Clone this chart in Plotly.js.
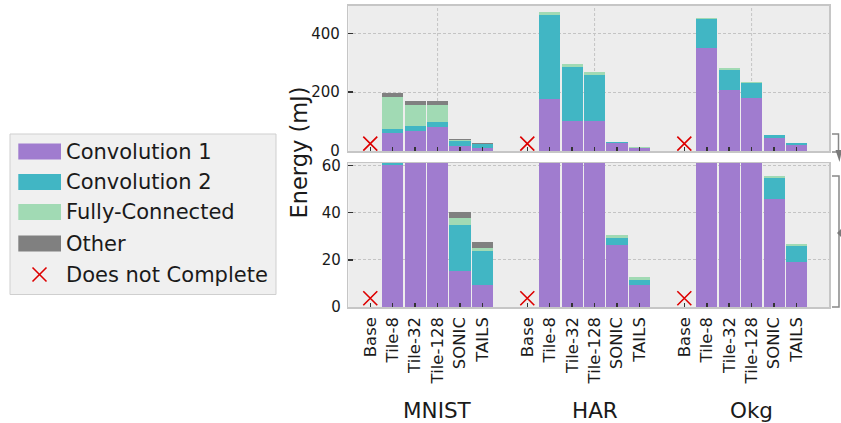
<!DOCTYPE html>
<html><head><meta charset="utf-8">
<script src="https://cdn.plot.ly/plotly-3.0.1.min.js"></script>
<style>html,body{margin:0;padding:0;background:#fff}#chart{width:841px;height:423px}</style>
</head><body><div id="chart"></div>
<script>
// ---- data ----
const datasets = ['MNIST', 'HAR', 'Okg'];
const methods = ['Base', 'Tile-8', 'Tile-32', 'Tile-128', 'SONIC', 'TAILS'];
// values (mJ), ordered dataset x method
const conv1 = [null, 60, 68, 82, 15.4, 9.5,   null, 178, 102, 102, 26.4, 9.5,   null, 349, 208, 182, 45.9, 19.1];
const conv2 = [null, 15, 17, 17, 19.3, 14.2,  null, 285, 185, 158, 2.8, 1.9,    null, 99, 69, 50, 8.8, 6.7];
const fc    = [null, 110, 72, 58, 3.0, 1.3,   null, 9, 10, 10, 1.3, 1.3,        null, 3, 7, 4, 0.8, 0.9];
const other = [null, 13, 14, 14, 2.4, 2.5,    null, 0, 0, 0, 0, 0,              null, 0, 0, 0, 0, 0];
const dncTop = [25, 25, 25];        // "Does not Complete" marker level, upper panel
const dncBottom = [3.7, 3.7, 3.7];  // same, lower panel
const seriesNames = ['Convolution 1', 'Convolution 2', 'Fully-Connected', 'Other'];
const topTicks = [0, 200, 400];
const bottomTicks = [0, 20, 40, 60];

// ---- styling ----
const colors = ['#a07ccf', '#41b6c4', '#a1dab4', '#808080'];
const W = 841, H = 423;
const FONT = "'DejaVu Sans', sans-serif";
const px = (x) => x / W;
const py = (y) => 1 - y / H;

const xPos = [], labels = [], basePos = [];
datasets.forEach((d, g) => methods.forEach((m, i) => {
  const p = g * 7 + i;
  xPos.push(p); labels.push(m);
  if (m === 'Base') basePos.push(p);
}));
const groupPos = datasets.map((d, g) => g * 7 + 3);

const series = [conv1, conv2, fc, other];
const traces = [];
[['x', 'y'], ['x2', 'y2']].forEach(([xa, ya]) => {
  series.forEach((vals, s) => {
    traces.push({
      type: 'bar', x: xPos, y: vals, name: seriesNames[s], xaxis: xa, yaxis: ya,
      width: 0.94, marker: { color: colors[s], line: { width: 0 } },
      showlegend: false, hoverinfo: 'skip'
    });
  });
  traces.push({
    type: 'scatter', mode: 'markers', x: basePos, y: ya === 'y' ? dncBottom : dncTop,
    xaxis: xa, yaxis: ya, name: 'Does not Complete', showlegend: false,
    marker: { symbol: 'x-thin-open', size: 14, color: '#dd0000', line: { width: 1.6, color: '#dd0000' } },
    cliponaxis: false, hoverinfo: 'skip'
  });
});

const xDomain = [px(348.3), px(829)];
const xRange = [-0.98, 20.45];
const axisLine = { showline: true, mirror: true, linecolor: '#c6c6c6', linewidth: 1.5, zeroline: false };
const tickStyle = { ticks: 'inside', ticklen: 4, tickwidth: 1.5, tickcolor: '#333' };

const layout = {
  width: W, height: H, autosize: false,
  margin: { l: 0, r: 0, t: 0, b: 0 },
  paper_bgcolor: '#ffffff', plot_bgcolor: '#ededed',
  barmode: 'stack', bargap: 0,
  font: { family: FONT, color: '#1a1a1a' },
  showlegend: false,
  xaxis: Object.assign({ domain: xDomain, range: xRange, anchor: 'y', tickmode: 'array', tickvals: xPos, ticktext: labels,
    tickangle: -90, tickfont: { family: FONT, size: 16.5, color: '#1a1a1a' }, showgrid: false, ticklabelstandoff: 2 }, axisLine, tickStyle),
  xaxis2: Object.assign({ domain: xDomain, range: xRange, anchor: 'y2', matches: 'x', tickmode: 'array', tickvals: xPos,
    showticklabels: false, showgrid: false }, axisLine, tickStyle),
  yaxis: Object.assign({ domain: [py(307), py(163)], range: [0, 61], anchor: 'x', tickmode: 'array', tickvals: bottomTicks,
    tickfont: { family: FONT, size: 15, color: '#1a1a1a' }, showgrid: true, gridcolor: '#c4c4c4', griddash: '3px,2px', gridwidth: 1,
    ticklabelstandoff: 3 }, axisLine, { ticks: 'inside', tickwidth: 1.5, tickcolor: '#333', ticklen: 5 }),
  yaxis2: Object.assign({ domain: [py(151), py(5.5)], range: [0, 495], anchor: 'x2', tickmode: 'array', tickvals: topTicks,
    tickfont: { family: FONT, size: 15, color: '#1a1a1a' }, showgrid: true, gridcolor: '#c4c4c4', griddash: '3px,2px', gridwidth: 1,
    ticklabelstandoff: 4 }, axisLine, { ticks: 'inside', tickwidth: 1.5, tickcolor: '#333', ticklen: 5 }),
  shapes: [],
  annotations: []
};

// vertical dashed grid lines at the group centres
groupPos.forEach(p => {
  [['x', 'y domain'], ['x2', 'y2 domain']].forEach(([xr, yr]) => {
    layout.shapes.push({ type: 'line', layer: 'below', xref: xr, yref: yr, x0: p, x1: p, y0: 0, y1: 1,
      line: { color: '#c4c4c4', width: 1, dash: '3px,2px' } });
  });
});

// group labels
datasets.forEach((d, g) => {
  layout.annotations.push({ text: d, xref: 'x', x: groupPos[g], yref: 'paper', y: py(410.5), xanchor: 'center', yanchor: 'middle',
    showarrow: false, font: { family: FONT, size: 21.5, color: '#1a1a1a' } });
});

// y-axis title
layout.annotations.push({ text: 'Energy (mJ)', textangle: -90, xref: 'paper', yref: 'paper', x: px(298), y: py(152.5),
  xanchor: 'center', yanchor: 'middle', showarrow: false, font: { family: FONT, size: 22.5, color: '#1a1a1a' } });

// legend (drawn)
function pathPx(cmds) { // cmds: array of [cmd, x, y]
  return cmds.map(c => c.length === 1 ? c[0] : c[0] + px(c[1]).toFixed(5) + ',' + py(c[2]).toFixed(5)).join(' ');
}
layout.shapes.push({ type: 'rect', xref: 'paper', yref: 'paper', x0: px(10), x1: px(276), y0: py(294.5), y1: py(134),
  fillcolor: '#f0f0f0', line: { color: '#cfcfcf', width: 1 }, layer: 'above' });
const legY = [151.5, 182, 212, 243.5, 274.5];
seriesNames.forEach((n, i) => {
  layout.shapes.push({ type: 'rect', xref: 'paper', yref: 'paper', x0: px(18.3), x1: px(61), y0: py(legY[i] + 8), y1: py(legY[i] - 8),
    fillcolor: colors[i], line: { width: 0 }, layer: 'above' });
});
const xc = 39.5, yc = legY[4], hs = 7;
layout.shapes.push({ type: 'line', xref: 'paper', yref: 'paper', x0: px(xc - hs), y0: py(yc - hs), x1: px(xc + hs), y1: py(yc + hs),
  line: { color: '#dd0000', width: 1.6 }, layer: 'above' });
layout.shapes.push({ type: 'line', xref: 'paper', yref: 'paper', x0: px(xc - hs), y0: py(yc + hs), x1: px(xc + hs), y1: py(yc - hs),
  line: { color: '#dd0000', width: 1.6 }, layer: 'above' });
seriesNames.concat(['Does not Complete']).forEach((n, i) => {
  layout.annotations.push({ text: n, xref: 'paper', yref: 'paper', x: px(64), y: py(legY[i]), xanchor: 'left', yanchor: 'middle',
    showarrow: false, font: { family: FONT, size: 21, color: '#1a1a1a' } });
});

// zoom brackets at the right edge
layout.shapes.push({ type: 'path', xref: 'paper', yref: 'paper', line: { color: '#888', width: 1.5 },
  path: pathPx([['M', 832, 134], ['L', 838.5, 134], ['L', 838.5, 152], ['L', 832, 152]]) });
layout.shapes.push({ type: 'path', xref: 'paper', yref: 'paper', line: { width: 0 }, fillcolor: '#7a7a7a',
  path: pathPx([['M', 835.5, 150], ['L', 842, 150], ['L', 839.5, 162], ['Z']]) });
layout.shapes.push({ type: 'path', xref: 'paper', yref: 'paper', line: { color: '#888', width: 1.5 },
  path: pathPx([['M', 832, 176], ['L', 839, 176], ['L', 839, 307], ['L', 832, 307]]) });
layout.shapes.push({ type: 'path', xref: 'paper', yref: 'paper', line: { width: 0 }, fillcolor: '#7a7a7a',
  path: pathPx([['M', 837, 233], ['L', 842, 228], ['L', 842, 238], ['Z']]) });

Plotly.newPlot('chart', traces, layout, { staticPlot: true, displayModeBar: false });
</script>
</body></html>
